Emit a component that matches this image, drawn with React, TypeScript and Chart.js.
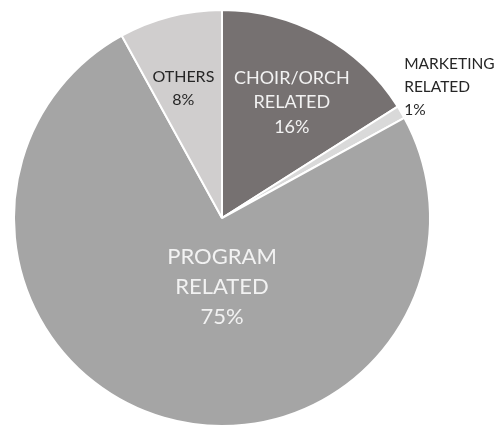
import React, { useEffect, useRef } from "react";
import { Chart, registerables } from "chart.js";

Chart.register(...registerables);

const categories = ["CHOIR/ORCH RELATED", "MARKETING RELATED", "PROGRAM RELATED", "OTHERS"];
const labelLines = [["CHOIR/ORCH", "RELATED", "16%"], ["MARKETING", "RELATED", "1%"], ["PROGRAM", "RELATED", "75%"], ["OTHERS", "8%"]];
const values = [16, 1, 75, 8];
const colors = ["#767171", "#D9D9D9", "#A5A5A5", "#D0CECE"];

// label placement: angle offset (deg) from slice mid-angle, radius fraction, font size, color, align, line height
const labelStyle = [
  { dAng: 2.3, r: 0.65, size: 18, color: "#F2F2F2", align: "center", lh: 24.5 },
  { dAng: -5.2, r: 1.08, size: 15.5, color: "#262626", align: "left", lh: 23 },
  { dAng: -16.2, r: 0.33, size: 22, color: "#F2F2F2", align: "center", lh: 30 },
  { dAng: -2.2, r: 0.65, size: 16, color: "#262626", align: "center", lh: 23 },
];

const labelPlugin = {
  id: "sliceLabels",
  afterDatasetsDraw(chart: any) {
    const ctx = chart.ctx;
    const meta = chart.getDatasetMeta(0);
    meta.data.forEach((arc: any, i: number) => {
      const { x, y, startAngle, endAngle, outerRadius } = arc.getProps(["x", "y", "startAngle", "endAngle", "outerRadius"], true);
      const st = labelStyle[i];
      const mid = (startAngle + endAngle) / 2 + (st.dAng * Math.PI) / 180;
      const px = x + Math.cos(mid) * outerRadius * st.r;
      const py = y + Math.sin(mid) * outerRadius * st.r;
      const lines = labelLines[i];
      ctx.save();
      ctx.font = `${st.size}px Lato, "Open Sans", sans-serif`;
      ctx.fillStyle = st.color;
      ctx.textAlign = st.align;
      ctx.textBaseline = "middle";
      const n = lines.length;
      lines.forEach((ln: string, k: number) => {
        ctx.fillText(ln, px, py + (k - (n - 1) / 2) * st.lh);
      });
      ctx.restore();
    });
  },
};

export default function App() {
  const ref = useRef<HTMLCanvasElement>(null);
  useEffect(() => {
    document.body.style.margin = "0";
    document.body.style.overflow = "hidden";
    document.body.style.background = "#ffffff";
    const chart = new Chart(ref.current as HTMLCanvasElement, {
      type: "pie",
      data: {
        labels: categories,
        datasets: [
          {
            data: values,
            backgroundColor: colors,
            borderColor: "#ffffff",
            borderWidth: 2,
          },
        ],
      },
      options: {
        responsive: false,
        animation: false,
        layout: { padding: { left: 13, top: 9, right: 66, bottom: 13 } },
        plugins: { legend: { display: false }, tooltip: { enabled: false } },
      },
      plugins: [labelPlugin],
    } as any);
    return () => chart.destroy();
  }, []);
  return (
    <div style={{ width: 497, height: 440 }}>
      <canvas ref={ref} width={497} height={440} />
    </div>
  );
}
